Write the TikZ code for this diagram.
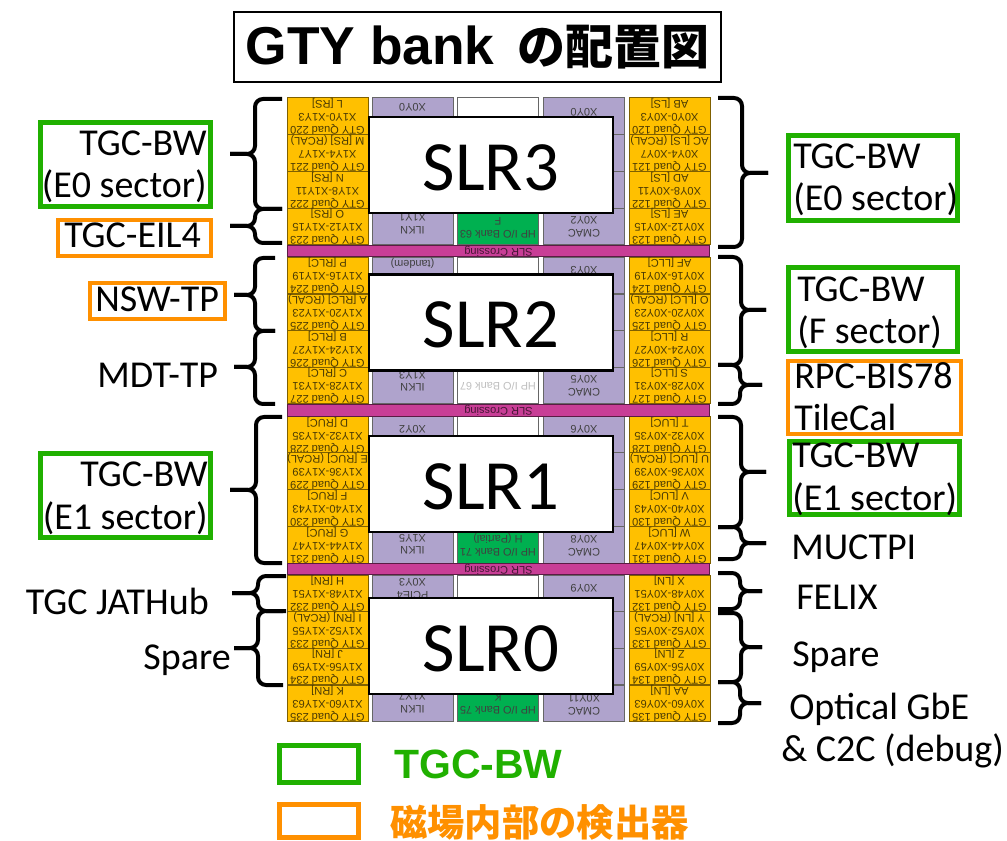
\documentclass[tikz,border=0pt]{standalone}
\usepackage{fontspec}
\setmainfont{Carlito}
\newfontfamily\chipfont{Liberation Sans}
\newfontfamily\jpfont{Noto Sans CJK JP}
\usetikzlibrary{positioning}
\definecolor{quadgold}{HTML}{FFC000}
\definecolor{quadedge}{HTML}{7F6000}
\definecolor{quadtext}{HTML}{4A3A04}
\definecolor{cmacpurple}{HTML}{AFA3CC}
\definecolor{bankgreen}{HTML}{00B050}
\definecolor{crossmagenta}{HTML}{C83E96}
\definecolor{boxgreen}{HTML}{20B000}
\definecolor{boxorange}{HTML}{FF9000}

\begin{document}
\begin{tikzpicture}[
    x=0.75pt, y=-0.75pt,
    quadStyle/.style={rectangle, draw=quadedge, line width=0.7pt, fill=quadgold, text=quadtext, inner sep=0pt,
        minimum width=60.75pt, minimum height=27.4pt, rotate=180, align=center,
        font=\chipfont\fontsize{8.3}{9.7}\selectfont},
    cellStyle/.style={rectangle, draw=black!60, line width=0.7pt, inner sep=0pt,
        minimum width=60.75pt, minimum height=27.4pt},
    chipText/.style={inner sep=0pt, rotate=180, align=center, text=black!75,
        font=\chipfont\fontsize{8.2}{9.4}\selectfont},
    crossStyle/.style={rectangle, draw=black!55!crossmagenta, line width=0.7pt, fill=crossmagenta, inner sep=0pt,
        minimum width=317pt, minimum height=8.5pt, rotate=180, text=black!65!crossmagenta,
        font=\chipfont\fontsize{8.3}{8.5}\selectfont},
    slrStyle/.style={rectangle, draw=black, line width=2.2pt, fill=white, inner sep=0pt,
        minimum width=183pt, minimum height=72pt, text height=38pt, text depth=0pt,
        font=\fontsize{53}{60}\selectfont},
    greenBox/.style={rectangle, draw=boxgreen, line width=3.75pt},
    orangeBox/.style={rectangle, draw=boxorange, line width=3pt},
    labelStyle/.style={inner sep=0pt, font=\fontsize{28.5}{32}\selectfont},
    braceStyle/.style={draw=black, line width=3pt, rounded corners=6pt}
]
    \useasboundingbox (0,0) rectangle (1007,841);

    % Title
    \node[rectangle, draw=black, line width=1.6pt, minimum width=365pt, minimum height=53pt, inner sep=0pt] (title) at (477.5,47)
        {\chipfont\bfseries\fontsize{40}{44}\selectfont GTY bank {\jpfont\fontsize{36}{40}\selectfont \,の配置図}};

    % GTY quads on both sides
    \foreach \y/\lname/\rname [count=\i from 0] in {
        116/{L [RS]}/{AB [LS]}, 153/{M [RS] (RCAL)}/{AC [LS] (RCAL)}, 190/{N [RS]}/{AD [LS]}, 226.5/{O [RS]}/{AE [LS]},
        275.5/{P [RLC]}/{AF [LLC]}, 312.5/{A [RLC] (RCAL)}/{O [LLC] (RCAL)}, 349/{B [RLC]}/{R [LLC]}, 385.5/{C [RLC]}/{S [LLC]},
        435/{D [RUC]}/{T [LUC]}, 471/{E [RUC] (RCAL)}/{U [LUC] (RCAL)}, 508/{F [RUC]}/{V [LUC]}, 545/{G [RUC]}/{W [LUC]},
        593.5/{H [RN]}/{X [LN]}, 630/{I [RN] (RCAL)}/{Y [LN] (RCAL)}, 666.5/{J [RN]}/{Z [LN]}, 703.5/{K [RN]}/{AA [LN]}} {
        \pgfmathtruncatemacro{\qa}{\i*4}
        \pgfmathtruncatemacro{\qb}{\i*4+3}
        \pgfmathtruncatemacro{\ql}{220+\i}
        \pgfmathtruncatemacro{\qr}{120+\i}
        \node[quadStyle] (ql\i) at (327.5,\y) {GTY Quad \ql\\X1Y\qa-X1Y\qb\\\lname};
        \node[quadStyle] (qr\i) at (669.5,\y) {GTY Quad \qr\\X0Y\qa-X0Y\qb\\\rname};
        % CMAC, ILKN and I/O columns
        \node[cellStyle, fill=cmacpurple] (ck\i) at (412.5,\y) {};
        \node[cellStyle, fill=white] (io\i) at (498,\y) {};
        \node[cellStyle, fill=cmacpurple] (cm\i) at (584,\y) {};
    }

    % Green I/O banks
    \node[cellStyle, fill=bankgreen] (bank63) at (498,226.5) {};
    \node[cellStyle, fill=bankgreen] (bank71) at (498,545) {};
    \node[cellStyle, fill=bankgreen] (bank75) at (498,703.5) {};

    % Texts left visible in the columns
    \foreach \x/\y/\txt in {
        412.5/107/X0Y0, 412.5/224/{ILKN\\X1Y1}, 584/112/X0Y0, 584/227/{CMAC\\X0Y2},
        412.5/263/(tandem), 412.5/381/{ILKN\\X1Y3}, 584/270/X0Y3, 584/386/{CMAC\\X0Y5},
        412.5/429/X0Y2, 412.5/544/{ILKN\\X1Y5}, 584/429/X0Y6, 584/546/{CMAC\\X0Y8},
        412.5/589/{PCIE4\\X0Y3}, 412.5/703/{ILKN\\X1Y7}, 584/588/X0Y9, 584/705/{CMAC\\X0Y11},
        498/228/{HP I/O Bank 63\\F}, 498/545/{HP I/O Bank 71\\H (Partial)}, 498/704/{HP I/O Bank 75\\K}} {
        \node[chipText] at (\x,\y) {\txt};
    }
    \node[chipText, text=black!25] (bank67) at (498,386) {HP I/O Bank 67};

    % SLR crossings
    \node[crossStyle] (cross3) at (498.5,251) {SLR Crossing};
    \node[crossStyle] (cross2) at (498.5,410.5) {SLR Crossing};
    \node[crossStyle] (cross1) at (498.5,569) {SLR Crossing};

    % SLR boxes
    \node[slrStyle] (slr3) at (491,165) {SLR3};
    \node[slrStyle] (slr2) at (491,322.5) {SLR2};
    \node[slrStyle] (slr1) at (491,484) {SLR1};
    \node[slrStyle] (slr0) at (491,646) {SLR0};

    % Braces: end x, spine x, tip x, top y, tip y, bottom y
    \foreach \ex/\sx/\tx/\ya/\ym/\yb in {
        282/255/230/99/154/209, 282/255/230/209/226/243, 275/255/234/258/295/331, 275/255/234/331/367/404,
        282/256/230/417/490/563, 286/258/232/576/593/611, 283/258/234/611/648/685,
        718/742/768/98/173/247, 718/741/766/257/310/365, 718/740/762/365/385/404, 718/741/766/417/472/527,
        718/741/766/527/543/559, 718/740/762/573/591/609, 718/741/762/613/647/682, 718/740/761/682/703/723} {
        \draw[braceStyle] (\ex,\ya) -- (\sx,\ya) -- (\sx,\ym) -- (\tx,\ym);
        \draw[braceStyle] (\ex,\yb) -- (\sx,\yb) -- (\sx,\ym) -- (\tx,\ym);
    }

    % Detector boxes
    \node[greenBox, minimum width=127.5pt, minimum height=63pt] (boxE0l) at (125.5,164.5) {};
    \node[orangeBox, minimum width=114.75pt, minimum height=27pt] (boxEIL) at (134.5,238) {};
    \node[orangeBox, minimum width=101.25pt, minimum height=27pt] (boxNSW) at (157.5,301) {};
    \node[greenBox, minimum width=127.5pt, minimum height=63pt] (boxE1l) at (125.5,495.5) {};
    \node[greenBox, minimum width=126.75pt, minimum height=63.75pt] (boxE0r) at (873,178) {};
    \node[greenBox, minimum width=126.75pt, minimum height=63pt] (boxF) at (873,309.5) {};
    \node[orangeBox, minimum width=129.75pt, minimum height=54.75pt] (boxRPC) at (874.5,397.5) {};
    \node[greenBox, minimum width=127.5pt, minimum height=54.75pt] (boxE1r) at (874.5,478) {};

    % Labels on the left
    \node[labelStyle, anchor=base east, align=right] (tgcE0l) at (207,198) {TGC-BW\\(E0 sector)};
    \node[labelStyle, anchor=base west] (tgcEIL) at (64,248) {TGC-EIL4};
    \node[labelStyle, anchor=base west] (nswTP) at (95,312) {NSW-TP};
    \node[labelStyle, anchor=base west] (mdtTP) at (97,388) {MDT-TP};
    \node[labelStyle, anchor=base east, align=right] (tgcE1l) at (208,529) {TGC-BW\\(E1 sector)};
    \node[labelStyle, anchor=base east] (jatHub) at (209,614) {TGC JATHub};
    \node[labelStyle, anchor=base east] (spareL) at (231,669) {Spare};

    % Labels on the right
    \node[labelStyle, anchor=base west, align=left] (tgcE0r) at (793,211) {TGC-BW\\(E0 sector)};
    \node[labelStyle, anchor=base west, align=left] (tgcF) at (797,344) {TGC-BW\\(F sector)};
    \node[labelStyle, anchor=base west, align=left] (rpcBIS) at (794,431) {RPC-BIS78\\TileCal};
    \node[labelStyle, anchor=base west, align=left] (tgcE1r) at (792,510) {TGC-BW\\(E1 sector)};
    \node[labelStyle, anchor=base west] (muctpi) at (791,559) {MUCTPI};
    \node[labelStyle, anchor=base west] (felix) at (796,609) {FELIX};
    \node[labelStyle, anchor=base west] (spareR) at (792,666) {Spare};
    \node[labelStyle, anchor=base west] (optGbE) at (789,719) {Optical GbE};
    \node[labelStyle, anchor=base west] (c2c) at (781,761) {\& C2C (debug)};

    % Legend
    \node[greenBox, minimum width=59.25pt, minimum height=27.75pt] (legGreen) at (319,764) {};
    \node[orangeBox, line width=3.75pt, minimum width=59.25pt, minimum height=24.75pt] (legOrange) at (319,821) {};
    \node[inner sep=0pt, anchor=base west, text=boxgreen, font=\chipfont\bfseries\fontsize{30.7}{34}\selectfont] (legGreenText) at (394,778) {TGC-BW};
    \node[inner sep=0pt, anchor=base west, text=boxorange, font=\jpfont\bfseries\fontsize{28}{32}\selectfont] (legOrangeText) at (390,836) {磁場内部の検出器};
\end{tikzpicture}
\end{document}
